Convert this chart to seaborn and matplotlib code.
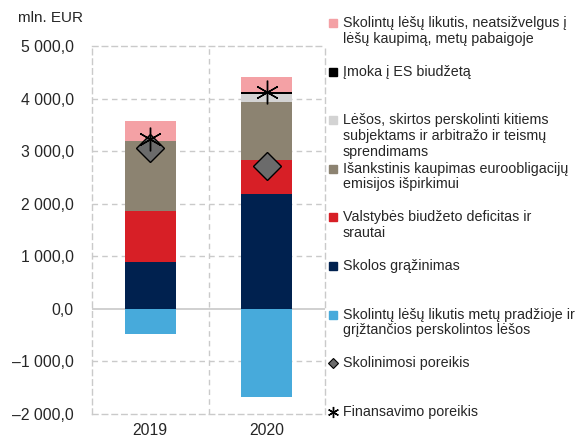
import numpy as np
import matplotlib
matplotlib.use("Agg")
import matplotlib.pyplot as plt
import seaborn as sns
from matplotlib.lines import Line2D

sns.set_style("white")
plt.rcParams['font.family'] = ['Liberation Sans', 'DejaVu Sans']
plt.rcParams['font.size'] = 10

# Duomenys (mln. EUR)
metai = ["2019", "2020"]
likutis_pradzioje = [-473, -1686]
skolos_grazinimas = [890, 2178]
deficitas = [966, 663]
isankstinis_kaupimas = [1332, 1085]
lesos_perskolinti = [0, 152]
imoka_es = [0, 51]
likutis_pabaigoje = [378, 290]
skolinimosi_poreikis = [3068, 2714]
finansavimo_poreikis = [3233, 4123]

spalvos = {
    "pink": "#F4A1A5",
    "black": "#000000",
    "lgray": "#D3D3D3",
    "brown": "#8C8371",
    "red": "#D71F26",
    "navy": "#00214F",
    "lblue": "#47AADB",
    "diamond": "#6B6B6B",
}

fig = plt.figure(figsize=(5.79, 4.37), dpi=100)
ax = fig.add_axes([92 / 579, 1 - 414 / 437, (325 - 92) / 579, 368 / 437])

# Sukrauti stulpeliai
sluoksniai = [
    (skolos_grazinimas, spalvos["navy"]),
    (deficitas, spalvos["red"]),
    (isankstinis_kaupimas, spalvos["brown"]),
    (lesos_perskolinti, spalvos["lgray"]),
    (imoka_es, spalvos["black"]),
    (likutis_pabaigoje, spalvos["pink"]),
]
apacia = np.zeros(len(metai))
for reiksmes, spalva in sluoksniai:
    sns.barplot(x=metai, y=reiksmes, bottom=apacia, color=spalva, width=0.44,
                saturation=1, linewidth=0, ax=ax, zorder=3)
    apacia = apacia + np.array(reiksmes)

sns.barplot(x=metai, y=likutis_pradzioje, color=spalvos["lblue"], width=0.44,
            saturation=1, linewidth=0, ax=ax, zorder=3)

poz = np.arange(len(metai))
ax.plot(poz, skolinimosi_poreikis, linestyle="none", marker="D", markersize=14,
        markerfacecolor=spalvos["diamond"], markeredgecolor="black",
        markeredgewidth=1, zorder=5)
ax.plot(poz, finansavimo_poreikis, linestyle="none", marker=(6, 2, 0), markersize=17,
        markeredgecolor="black", markeredgewidth=1, color="black", zorder=6)

# Ašys ir tinklelis
ax.set_xlim(-0.5, 1.5)
ax.set_ylim(-2000, 5000)
ax.set_yticks(range(-2000, 5001, 1000))
def fmt(v):
    s = f"{abs(v):,.1f}".replace(",", " ").replace(".", ",")
    return ("–" if v < 0 else "") + s
ax.set_yticklabels([fmt(v) for v in range(-2000, 5001, 1000)], fontsize=11.3)
ax.tick_params(axis="both", length=0)
ax.tick_params(axis="y", pad=13)
ax.tick_params(axis="x", pad=6.5, labelsize=11.3)
ax.set_xlabel("")
ax.set_ylabel("")

grid_c = "#CACACA"
for y in range(-1000, 5000, 1000):
    if y != 0:
        ax.axhline(y, color=grid_c, linestyle=(0, (4, 3)), linewidth=1, zorder=1)
ax.axhline(0, color="#C8C8C8", linewidth=1.2, zorder=2)
ax.axvline(0.5, color=grid_c, linestyle=(0, (4, 3)), linewidth=1, zorder=1)
for sp in ax.spines.values():
    sp.set_visible(True)
    sp.set_color(grid_c)
    sp.set_linestyle((0, (4, 3)))
    sp.set_linewidth(1)

fig.text(83 / 579, 1 - 18 / 437, "mln. EUR", ha="right", va="center", fontsize=11)

# Legenda
legendos_irasai = [
    ("s", spalvos["pink"], "Skolintų lėšų likutis, neatsižvelgus į\nlėšų kaupimą, metų pabaigoje"),
    ("s", spalvos["black"], "Įmoka į ES biudžetą"),
    ("s", spalvos["lgray"], "Lėšos, skirtos perskolinti kitiems\nsubjektams ir arbitražo ir teismų\nsprendimams"),
    ("s", spalvos["brown"], "Išankstinis kaupimas euroobligacijų\nemisijos išpirkimui"),
    ("s", spalvos["red"], "Valstybės biudžeto deficitas ir\nsrautai"),
    ("s", spalvos["navy"], "Skolos grąžinimas"),
    ("s", spalvos["lblue"], "Skolintų lėšų likutis metų pradžioje ir\ngrįžtančios perskolintos lėšos"),
    ("D", spalvos["diamond"], "Skolinimosi poreikis"),
    ((6, 2, 0), "black", "Finansavimo poreikis"),
]
y0, zingsnis = 23, 48.6
for i, (mk, c, tekstas) in enumerate(legendos_irasai):
    yc = 1 - (y0 + i * zingsnis) / 437
    if mk == "s":
        h = Line2D([333 / 579], [yc], marker="s", markersize=6, color=c,
                   linestyle="none", transform=fig.transFigure)
    elif mk == "D":
        h = Line2D([333 / 579], [yc], marker="D", markersize=5.5, markerfacecolor=c,
                   markeredgecolor="black", markeredgewidth=0.8,
                   linestyle="none", transform=fig.transFigure)
    else:
        h = Line2D([333 / 579], [yc], marker=mk, markersize=8, color=c,
                   markeredgewidth=1, linestyle="none", transform=fig.transFigure)
    fig.add_artist(h)
    fig.text(343 / 579, yc + 7 / 437, tekstas, ha="left", va="top",
             fontsize=10.3, linespacing=1.15)

fig.savefig("out.png", dpi=100)
